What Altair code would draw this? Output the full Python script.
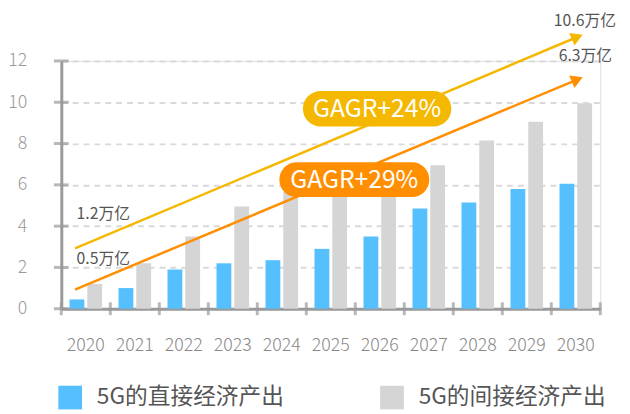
import altair as alt
import pandas as pd

years = ["2020", "2021", "2022", "2023", "2024", "2025", "2026", "2027", "2028", "2029", "2030"]
direct = [0.45, 1.0, 1.9, 2.2, 2.35, 2.9, 3.5, 4.85, 5.15, 5.8, 6.05]
indirect = [1.2, 2.2, 3.5, 4.95, 5.65, 6.0, 6.4, 6.95, 8.15, 9.05, 9.95]
series = ["5G的直接经济产出", "5G的间接经济产出"]
colors = ["#56BFFE", "#D5D5D5"]

y_ticks = [0, 2, 4, 6, 8, 10, 12]
x_bounds = list(range(0, 12))

# trend arrows (x in band-index units, y in value units)
yellow_line_x = [0.28, 10.53]
yellow_line_y = [2.92, 13.16]
orange_line_x = [0.28, 10.53]
orange_line_y = [0.93, 11.10]

value_labels = ["1.2万亿", "0.5万亿", "10.6万亿", "6.3万亿"]
value_label_x = [0.31, 0.31, 10.05, 10.15]
value_label_y = [4.6, 2.4, 13.93, 12.22]

pill_text = ["GAGR+24%", "GAGR+29%"]
pill_x = [4.93, 4.45]
pill_x2 = [7.96, 7.51]
pill_y = [8.82, 5.41]
pill_y2 = [10.54, 7.09]
pill_colors = ["#F5B800", "#FF8E00"]

FONT = "Noto Sans CJK SC"
W, H = 546, 251

bars = pd.DataFrame({
    "year": years * 2,
    "series": [series[0]] * len(years) + [series[1]] * len(years),
    "value": direct + indirect,
})

yscale = alt.Scale(domain=[0, 12], nice=False, zero=True)
xq = alt.Scale(domain=[0, 11], nice=False, zero=False)
yaxis = alt.Axis(title=None, values=y_ticks, ticks=False, tickSize=0,
                 labelPadding=35, labelFontSize=18, labelColor="#999999",
                 labelFont=FONT, labelFontWeight=300,
                 domainColor="#9a9a9a", domainWidth=3,
                 grid=True, gridColor="#d9d9d9", gridDash=[6, 5], gridWidth=2)


def Y(field):
    return alt.Y(field, scale=yscale, axis=yaxis, title=None)


bar_layer = alt.Chart(bars).mark_bar().encode(
    x=alt.X("year:N", sort=years,
            scale=alt.Scale(paddingInner=0.335, paddingOuter=0.1675),
            axis=alt.Axis(title=None, labelAngle=0, ticks=False, tickSize=0,
                          labelPadding=28, labelFontSize=18, labelColor="#888888",
                          labelFont=FONT, labelFontWeight=300,
                          domainColor="#9a9a9a", domainWidth=3, grid=False)),
    xOffset=alt.XOffset("series:N", sort=series,
                        scale=alt.Scale(paddingInner=0.1667, paddingOuter=0)),
    y=Y("value:Q"),
    color=alt.Color("series:N", sort=series,
                    scale=alt.Scale(domain=series, range=colors),
                    legend=alt.Legend(title=None, orient="none", legendX=-3, legendY=329,
                                      direction="horizontal", symbolType="square",
                                      symbolSize=576, symbolStrokeWidth=0,
                                      labelFontSize=23, labelColor="#555555",
                                      labelFont=FONT, labelOffset=15, labelLimit=400,
                                      columnPadding=97, padding=0)),
)

ytick_layer = alt.Chart(pd.DataFrame({"v": y_ticks})).mark_tick(
    color="#9a9a9a", size=15, thickness=3).encode(
    y=Y("v:Q"),
    x=alt.value(0),
)

xtick_layer = alt.Chart(pd.DataFrame({"b": x_bounds})).mark_tick(
    color="#9a9a9a", size=13, thickness=3).encode(
    x=alt.X("b:Q", scale=xq, axis=None),
    y=alt.value(H),
)


def arrow(xs, ys, color):
    d = pd.DataFrame({"x": xs, "y": ys})
    line = alt.Chart(d).mark_line(color=color, strokeWidth=2.5).encode(
        x=alt.X("x:Q", scale=xq, axis=None),
        y=Y("y:Q"),
    )
    head = alt.Chart(d.iloc[[1]]).mark_point(
        shape="triangle-right", filled=True, color=color, opacity=1,
        size=190, angle=337.2).encode(
        x=alt.X("x:Q", scale=xq, axis=None),
        y=Y("y:Q"),
    )
    return [line, head]


labels_df = pd.DataFrame({"t": value_labels, "x": value_label_x, "y": value_label_y})
label_layer = alt.Chart(labels_df).mark_text(
    align="left", baseline="middle", fontSize=16, color="#555555", font=FONT).encode(
    x=alt.X("x:Q", scale=xq, axis=None),
    y=Y("y:Q"),
    text="t:N",
)

pill_layers = []
for i in range(2):
    pdf = pd.DataFrame({"t": [pill_text[i]], "x": [pill_x[i]], "x2": [pill_x2[i]],
                        "y": [pill_y[i]], "y2": [pill_y2[i]],
                        "xc": [(pill_x[i] + pill_x2[i]) / 2], "yc": [(pill_y[i] + pill_y2[i]) / 2]})
    rect = alt.Chart(pdf).mark_rect(color=pill_colors[i], cornerRadius=18).encode(
        x=alt.X("x:Q", scale=xq, axis=None), x2="x2:Q",
        y=Y("y:Q"), y2="y2:Q",
    )
    txt = alt.Chart(pdf).mark_text(
        color="white", fontSize=25, font=FONT, align="center", baseline="middle").encode(
        x=alt.X("xc:Q", scale=xq, axis=None),
        y=Y("yc:Q"),
        text="t:N",
    )
    pill_layers += [rect, txt]

layers = [bar_layer, ytick_layer, xtick_layer]
layers += arrow(yellow_line_x, yellow_line_y, "#F5B800")
layers += arrow(orange_line_x, orange_line_y, "#FF8E00")
layers += pill_layers + [label_layer]

chart = alt.layer(*layers).resolve_scale(x="independent").properties(
    width=W, height=H,
    autosize=alt.AutoSizeParams(type="none"),
    padding={"left": 54, "top": 51, "right": 22, "bottom": 104},
).configure_view(stroke=None).configure(font=FONT)

chart.save("out.html", embed_options={"renderer": "svg", "actions": False})
